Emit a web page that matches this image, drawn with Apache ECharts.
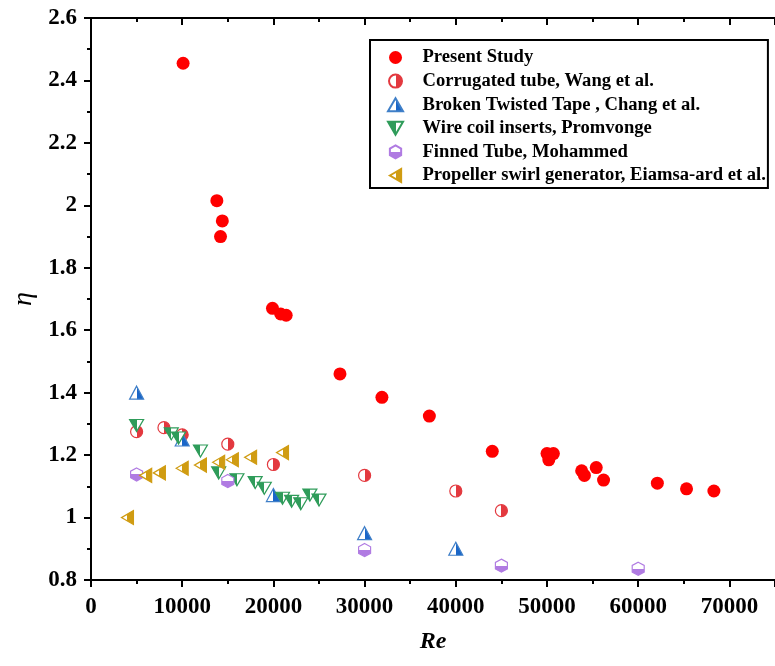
<!DOCTYPE html>
<html><head><meta charset="utf-8">
<script src="https://cdn.jsdelivr.net/npm/echarts@6/dist/echarts.min.js"></script>
<style>html,body{margin:0;padding:0;background:#fff}#c{width:775px;height:666px}</style>
</head><body><div id="c"></div>
<script>
// ---- data ----
const presentRe  = [10100, 13800, 14400, 14200, 19900, 20800, 21400, 27300, 31900, 37100, 44000, 50000, 50700, 50200, 53800, 54100, 55400, 56200, 62100, 65300, 68300];
const presentEta = [2.455, 2.015, 1.950, 1.900, 1.670, 1.652, 1.648, 1.460, 1.385, 1.325, 1.212, 1.205, 1.205, 1.185, 1.150, 1.135, 1.160, 1.120, 1.110, 1.092, 1.085];

const wangRe  = [5000, 8000, 10000, 15000, 20000, 30000, 40000, 45000];
const wangEta = [1.275, 1.288, 1.265, 1.235, 1.170, 1.135, 1.085, 1.022];

const changRe  = [5000, 10000, 20000, 30000, 40000];
const changEta = [1.400, 1.250, 1.072, 0.950, 0.900];

const promRe  = [5000, 8800, 9600, 12000, 14000, 16000, 18000, 19000, 21000, 22000, 23000, 24000, 25000];
const promEta = [1.295, 1.268, 1.255, 1.213, 1.143, 1.121, 1.112, 1.094, 1.062, 1.052, 1.044, 1.072, 1.056];

const mohRe  = [5000, 15000, 30000, 45000, 60000];
const mohEta = [1.138, 1.117, 0.896, 0.846, 0.836];

const eiamRe  = [4000, 6000, 7500, 10000, 12000, 14000, 15500, 17500, 21000];
const eiamEta = [1.000, 1.135, 1.143, 1.158, 1.168, 1.177, 1.185, 1.193, 1.208];

const seriesNames = ['Present Study', 'Corrugated tube, Wang et al.', 'Broken Twisted Tape , Chang et al.',
  'Wire coil inserts, Promvonge', 'Finned Tube, Mohammed', 'Propeller swirl generator, Eiamsa-ard et al.'];
const xTicks = { min: 0, max: 75000, interval: 10000 };
const yTicks = { min: 0.8, max: 2.6, interval: 0.2 };

// ---- helpers ----
function zip(a, b) { return a.map((v, i) => [v, b[i]]); }
function half(c1, c2, vertical) {
  return { type: 'linear', x: 0, y: 0, x2: vertical ? 0 : 1, y2: vertical ? 1 : 0,
    colorStops: [{offset: 0, color: c1}, {offset: 0.5, color: c1}, {offset: 0.5, color: c2}, {offset: 1, color: c2}] };
}
const SERIF = '"Liberation Serif", "Times New Roman", serif';
const upTri = 'path://M10,0 L20,17.3 L0,17.3 Z';
const downTri = 'path://M0,0 L20,0 L10,17.3 Z';
const leftTri = 'path://M0,10 L17.3,0 L17.3,20 Z';
const hexagon = 'path://M8.66,0 L17.32,5 L17.32,15 L8.66,20 L0,15 L0,5 Z';

const red = '#FF0000', cred = '#E3393F', blue = '#1A66C8', green = '#2F9C5A', purple = '#B07BE2', gold = '#D09C12';

const series = [
  { name: seriesNames[0], type: 'scatter', data: zip(presentRe, presentEta), symbol: 'circle', symbolSize: 13,
    itemStyle: { color: red, opacity: 1 }, z: 6 },
  { name: seriesNames[1], type: 'scatter', data: zip(wangRe, wangEta), symbol: 'circle', symbolSize: 12,
    itemStyle: { color: half('#ffffff', cred), borderColor: cred, borderWidth: 1.2, opacity: 1 } },
  { name: seriesNames[2], type: 'scatter', data: zip(changRe, changEta), symbol: upTri, symbolSize: [14, 13],
    itemStyle: { color: half('#ffffff', blue), borderColor: '#3F7FC8', borderWidth: 1.2, opacity: 1 } },
  { name: seriesNames[3], type: 'scatter', data: zip(promRe, promEta), symbol: downTri, symbolSize: [14, 12],
    itemStyle: { color: half(green, '#ffffff'), borderColor: green, borderWidth: 1.2, opacity: 1 } },
  { name: seriesNames[4], type: 'scatter', data: zip(mohRe, mohEta), symbol: hexagon, symbolSize: [12, 13],
    itemStyle: { color: half('#ffffff', purple, true), borderColor: purple, borderWidth: 1.2, opacity: 1 } },
  { name: seriesNames[5], type: 'scatter', data: zip(eiamRe, eiamEta), symbol: leftTri, symbolSize: [12, 14],
    itemStyle: { color: half('#ffffff', gold), borderColor: gold, borderWidth: 1.2, opacity: 1 } }
];

const axisCommon = {
  axisLine: { show: true, onZero: false, lineStyle: { color: '#000', width: 2 } },
  splitLine: { show: false }
};

const chart = echarts.init(document.getElementById('c'), null, { renderer: 'canvas' });
chart.setOption({
  animation: false,
  backgroundColor: '#fff',
  grid: { left: 91, top: 18, bottom: 86, right: -10, containLabel: false },
  legend: {
    orient: 'vertical', left: 370, top: 40,
    data: seriesNames,
    itemWidth: 44, itemHeight: 13, itemGap: 4.6,
    padding: [8, 2, 3, 17],
    borderColor: '#000', borderWidth: 2,
    textStyle: { fontFamily: SERIF, fontWeight: 'bold', fontSize: 18.6, color: '#000', lineHeight: 18 }
  },
  xAxis: [
    Object.assign({}, axisCommon, {
      type: 'value', position: 'bottom', min: xTicks.min, max: xTicks.max, interval: xTicks.interval,
      name: 'Re', nameLocation: 'middle', nameGap: 50,
      nameTextStyle: { fontFamily: SERIF, fontWeight: 'bold', fontStyle: 'italic', fontSize: 24, color: '#000' },
      axisTick: { show: true, inside: false, length: 7, lineStyle: { color: '#000', width: 2 } },
      minorTick: { show: true, splitNumber: 2, length: 4, lineStyle: { color: '#000', width: 2 } },
      axisLabel: { fontFamily: SERIF, fontWeight: 'bold', fontSize: 23, color: '#000', margin: 16, showMaxLabel: false,
        formatter: v => String(v) }
    }),
    Object.assign({}, axisCommon, {
      type: 'value', position: 'top', min: xTicks.min, max: xTicks.max, interval: xTicks.interval,
      axisTick: { show: true, inside: true, length: 7, lineStyle: { color: '#000', width: 2 } },
      minorTick: { show: true, splitNumber: 2, length: 4, lineStyle: { color: '#000', width: 2 } },
      axisLabel: { show: false }
    })
  ],
  yAxis: [
    Object.assign({}, axisCommon, {
      type: 'value', position: 'left', min: yTicks.min, max: yTicks.max, interval: yTicks.interval,
      name: 'η', nameLocation: 'middle', nameGap: 46, nameRotate: 90,
      nameTextStyle: { fontFamily: SERIF, fontStyle: 'italic', fontSize: 28, color: '#000' },
      axisTick: { show: true, inside: false, length: 7, lineStyle: { color: '#000', width: 2 } },
      minorTick: { show: true, splitNumber: 2, length: 4, lineStyle: { color: '#000', width: 2 } },
      axisLabel: { fontFamily: SERIF, fontWeight: 'bold', fontSize: 23, color: '#000', margin: 14,
        formatter: v => String(Math.round(v * 10) / 10) }
    })
  ],
  series: series
});
</script></body></html>
